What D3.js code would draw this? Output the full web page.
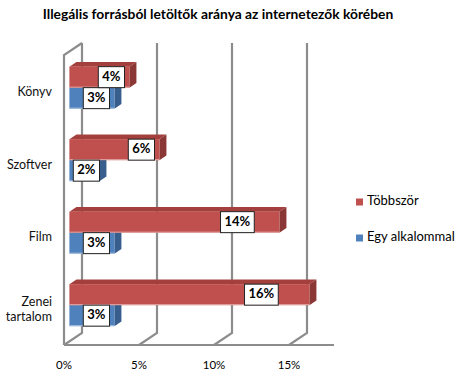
<!DOCTYPE html>
<html><head><meta charset="utf-8">
<script src="https://cdn.jsdelivr.net/npm/d3@7"></script>
<style>body{margin:0;background:#fff}svg{display:block}</style>
</head><body>
<svg id="c" width="459" height="381"></svg>
<script>
const title = "Illegális forrásból letöltők aránya az internetezők körében";
const categories = ["Könyv", "Szoftver", "Film", "Zenei tartalom"];
const seriesNames = ["Többször", "Egy alkalommal"];
const tobbszor = [4, 6, 14, 16];
const egyAlkalommal = [3, 2, 3, 3];
const xTicks = [0, 5, 10, 15];

const svg = d3.select("#c");
const font = "Lato, 'Open Sans', sans-serif";

// front plane scales
const x = d3.scaleLinear().domain([0, 18]).range([64, 334]);
const y = d3.scaleBand().domain(categories).range([55, 345]);
const DX = 18, DY = -12; // full depth projection
const proj = (px, py, d) => [px + DX * d, py + DY * d];
const d0 = 0.3, d1 = 0.69;
const barH = 21;

const colors = {
  red: {front: "#C0504D", top: "#A3403D", side: "#8A3735", edge: "#E3A9A7"},
  blue: {front: "#4F81BD", top: "#3F6A9E", side: "#375E8C", edge: "#A9C0DE"}
};
const gridColor = "#8C8C8C";

// title
const t = svg.append("text").attr("x", 218).attr("y", 19)
  .attr("text-anchor", "middle").attr("font-family", font)
  .attr("font-weight", "bold").attr("font-size", 13).attr("fill", "#000").text(title);
const tw = t.node().getComputedTextLength();
t.attr("font-size", 13 * 351 / tw);

// walls / grid
const g = svg.append("g").attr("fill", "none").attr("stroke", gridColor).attr("stroke-width", 2.2);
const yTop = y.range()[0], yBot = y.range()[1];
g.append("path").attr("d", d3.line()([[x(0), yBot], [x(0), yTop], proj(x(0), yTop, 1)]));
g.append("path").attr("d", d3.line()([[x(0), yBot], [x.range()[1], yBot]]));
xTicks.forEach(v => {
  g.append("path").attr("d", d3.line()([proj(x(v), yTop, 1), proj(x(v), yBot, 1), [x(v), yBot]]));
});

// tick labels
svg.append("g").selectAll("text").data(xTicks).join("text")
  .attr("x", d => x(d)).attr("y", 366).attr("text-anchor", "middle")
  .attr("dominant-baseline", "middle").attr("font-family", font).attr("font-size", 11.5)
  .attr("fill", "#000").text(d => d + "%");

// category labels
const cl = svg.append("g").selectAll("text").data(categories).join("text")
  .attr("text-anchor", "end").attr("font-family", font).attr("font-size", 12.5).attr("fill", "#111")
  .attr("x", 52).attr("y", d => y(d) + y.bandwidth() / 2 + 2)
  .attr("dominant-baseline", "middle");
cl.each(function(d) {
  const words = d.split(" ");
  const el = d3.select(this);
  if (words.length === 1) { el.text(d); return; }
  words.forEach((w, i) => {
    el.append("tspan").attr("x", 52).attr("dy", i === 0 ? -(words.length - 1) * 7.5 : 15).text(w);
  });
});

// bars
const bars = svg.append("g");
const labels = [];
function bar3d(v, yFrontTop, c) {
  const x0 = x(0), x1 = x(v);
  const [fx0, fy0] = proj(x0, yFrontTop, d0);
  const [fx1] = proj(x1, yFrontTop, d0);
  const fy1 = fy0 + barH;
  const ddx = DX * (d1 - d0), ddy = DY * (d1 - d0);
  bars.append("path").attr("fill", c.top)
    .attr("d", d3.line()([[fx0, fy0], [fx1, fy0], [fx1 + ddx, fy0 + ddy], [fx0 + ddx, fy0 + ddy]]) + "Z");
  bars.append("path").attr("fill", c.side)
    .attr("d", d3.line()([[fx1, fy0], [fx1 + ddx, fy0 + ddy], [fx1 + ddx, fy1 + ddy], [fx1, fy1]]) + "Z");
  bars.append("rect").attr("x", fx0).attr("y", fy0).attr("width", fx1 - fx0).attr("height", barH).attr("fill", c.front);
  bars.append("rect").attr("x", fx0).attr("y", fy1 - 1).attr("width", fx1 - fx0).attr("height", 1).attr("fill", c.edge);
  const span = fx1 - fx0;
  let cx = fx1 - Math.max(18, 0.2 * span);
  cx = Math.max(cx, fx0 + 17);
  labels.push({v, cx, cy: fy0 + barH / 2});
}
categories.forEach((cat, i) => {
  const mid = y(cat) + y.bandwidth() / 2;
  bar3d(egyAlkalommal[i], mid, colors.blue);
  bar3d(tobbszor[i], mid - barH, colors.red);
});

// data labels
const lg = svg.append("g");
labels.forEach(l => {
  const txt = lg.append("text").attr("x", l.cx).attr("y", l.cy + 0.5).attr("text-anchor", "middle")
    .attr("dominant-baseline", "middle").attr("font-family", font).attr("font-weight", "bold")
    .attr("font-size", 13).attr("fill", "#000").text(l.v + "%");
  const w = txt.node().getComputedTextLength() + 8;
  lg.insert("rect", "text").attr("x", l.cx - w / 2).attr("y", l.cy - 10.5).attr("width", w).attr("height", 21)
    .attr("fill", "#fff").attr("stroke", "#222").attr("stroke-width", 1);
});

// legend
const legY = [202, 238];
const leg = svg.append("g");
seriesNames.forEach((s, i) => {
  leg.append("rect").attr("x", 356).attr("y", legY[i] - 3.5).attr("width", 7).attr("height", 7)
    .attr("fill", i === 0 ? colors.red.front : colors.blue.front);
  leg.append("text").attr("x", 367).attr("y", legY[i]).attr("dominant-baseline", "middle")
    .attr("font-family", font).attr("font-size", 13).attr("fill", "#000").text(s);
});
</script>
</body></html>
